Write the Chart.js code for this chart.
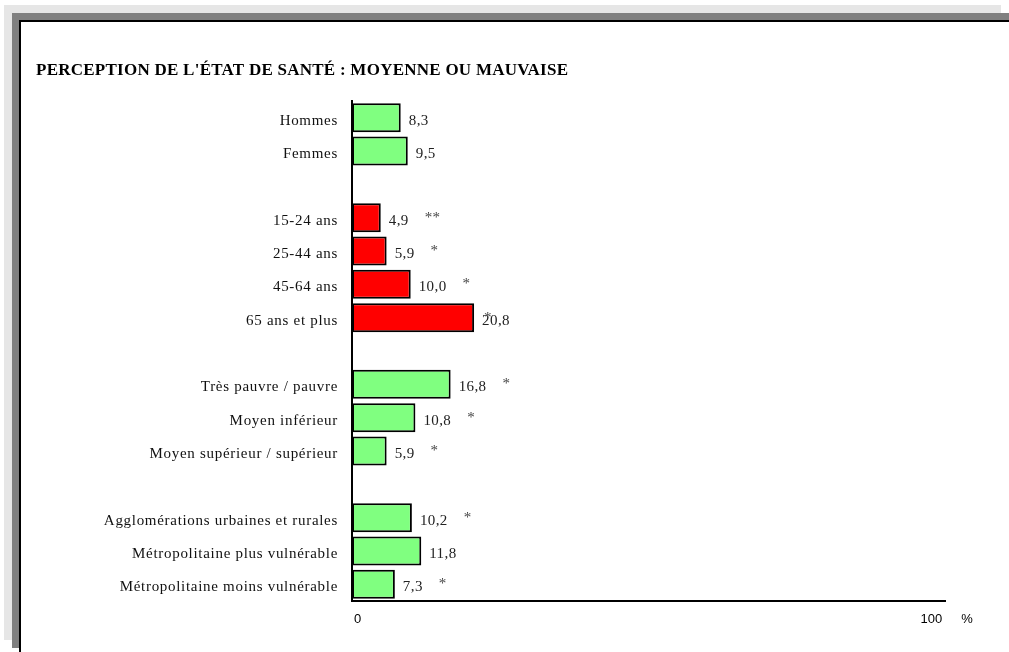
<!DOCTYPE html>
<html>
<head>
<meta charset="utf-8">
<script src="https://cdn.jsdelivr.net/npm/chart.js@4"></script>
<style>
  html, body { margin:0; padding:0; background:#fff; width:1009px; height:652px; overflow:hidden; }
  #lg { position:absolute; left:4px; top:5px; width:997px; height:635px; background:#e6e6e6; }
  #dg { position:absolute; left:12px; top:13px; width:1000px; height:635px; background:#808080; }
  #panel { position:absolute; left:19px; top:20px; width:1000px; height:700px; background:#fff; border-left:2px solid #000; border-top:2px solid #000; }
  #wrap { position:absolute; left:0; top:0; width:1009px; height:652px; }
</style>
</head>
<body>
<div id="lg"></div>
<div id="dg"></div>
<div id="panel"></div>
<div id="wrap"><canvas id="c" width="1009" height="652"></canvas></div>
<script>
const title = "PERCEPTION DE L'ÉTAT DE SANTÉ : MOYENNE OU MAUVAISE";
const categories = ["Hommes", "Femmes", "", "15-24 ans", "25-44 ans", "45-64 ans", "65 ans et plus", "",
  "Très pauvre / pauvre", "Moyen inférieur", "Moyen supérieur / supérieur", "",
  "Agglomérations urbaines et rurales", "Métropolitaine plus vulnérable", "Métropolitaine moins vulnérable"];
const values = [8.3, 9.5, null, 4.9, 5.9, 10.0, 20.8, null, 16.8, 10.8, 5.9, null, 10.2, 11.8, 7.3];
const groups = ["sexe", "sexe", null, "age", "age", "age", "age", null, "revenu", "revenu", "revenu", null, "milieu", "milieu", "milieu"];
const markers = ["", "", "", "**", "*", "*", "*", "", "*", "*", "*", "", "*", "", "*"];
const markerOverlap = [false, false, false, false, false, false, true, false, false, false, false, false, false, false, false];
const xTickLabels = ["0", "100"];
const xTickValues = [0, 100];
const unitLabel = "%";

const groupColors = { sexe: "#80ff80", age: "#ff0000", revenu: "#80ff80", milieu: "#80ff80" };
const barColors = groups.map(g => g ? groupColors[g] : "rgba(0,0,0,0)");
const fmt = v => v.toFixed(1).replace(".", ",");

const serif = "'Liberation Serif', 'Times New Roman', serif";
const sans = "'Liberation Sans', Arial, sans-serif";

const spacing = {
  id: "spacing",
  beforeDraw(chart) { chart.ctx.letterSpacing = "0.7px"; }
};

const overlay = {
  id: "overlay",
  afterDatasetsDraw(chart) {
    const ctx = chart.ctx;
    const meta = chart.getDatasetMeta(0);
    const xs = chart.scales.x;
    ctx.save();
    // title
    ctx.letterSpacing = "0.25px";
    ctx.fillStyle = "#000";
    ctx.font = "bold 17px " + serif;
    ctx.textAlign = "left";
    ctx.textBaseline = "alphabetic";
    ctx.fillText(title, 36, 75);
    // value labels and markers
    ctx.letterSpacing = "0.4px";
    values.forEach((v, i) => {
      if (v === null) return;
      const bar = meta.data[i];
      const x = bar.x + 8;
      const y = bar.y + 3;
      ctx.font = "15px " + serif;
      ctx.fillStyle = "#222";
      ctx.textAlign = "left";
      ctx.textBaseline = "middle";
      const t = fmt(v);
      ctx.fillText(t, x, y);
      const w = ctx.measureText(t).width;
      if (markers[i]) {
        ctx.font = "15px " + serif;
        ctx.fillStyle = "#444";
        const mx = markerOverlap[i] ? x + 2 : x + w + 16;
        ctx.fillText(markers[i], mx, y - 3);
      }
    });
    // x tick labels
    ctx.letterSpacing = "0px";
    ctx.font = "13px " + sans;
    ctx.fillStyle = "#000";
    ctx.textBaseline = "alphabetic";
    const ty = chart.chartArea.bottom + 22;
    xTickValues.forEach((val, k) => {
      const px = xs.getPixelForValue(val);
      if (k === 0) { ctx.textAlign = "left"; ctx.fillText(xTickLabels[k], px + 2, ty); }
      else { ctx.textAlign = "right"; ctx.fillText(xTickLabels[k], px + 3, ty); }
    });
    ctx.textAlign = "left";
    ctx.fillText(unitLabel, xs.getPixelForValue(100) + 22, ty);
    ctx.restore();
  }
};

new Chart(document.getElementById("c"), {
  type: "bar",
  data: {
    labels: categories,
    datasets: [{
      data: values,
      backgroundColor: barColors,
      borderColor: "#000",
      borderWidth: 2,
      borderSkipped: false,
      barPercentage: 0.87,
      categoryPercentage: 1.0
    }]
  },
  options: {
    indexAxis: "y",
    responsive: false,
    animation: false,
    devicePixelRatio: 1,
    layout: { padding: { left: 0, top: 101, right: 64, bottom: 51 } },
    plugins: { legend: { display: false }, tooltip: { enabled: false }, title: { display: false } },
    scales: {
      x: {
        min: 0, max: 101,
        grid: { display: false, drawTicks: false },
        border: { display: true, color: "#000", width: 2 },
        ticks: { display: false },
        afterFit(s) { s.height = 0; }
      },
      y: {
        grid: { display: false, drawTicks: false },
        border: { display: true, color: "#000", width: 2 },
        ticks: { color: "#111", font: { family: serif, size: 15 }, padding: 14, labelOffset: 3, autoSkip: false },
        afterFit(s) { s.width = 352; }
      }
    }
  },
  plugins: [spacing, overlay]
});
</script>
</body>
</html>
